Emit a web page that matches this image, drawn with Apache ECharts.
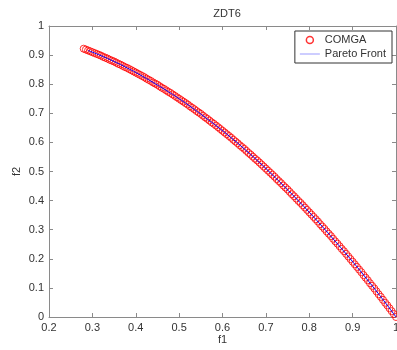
<!DOCTYPE html>
<html>
<head>
<meta charset="utf-8">
<script src="https://cdn.jsdelivr.net/npm/echarts@6/dist/echarts.min.js"></script>
<style>
  html, body { margin: 0; padding: 0; background: #fff; }
  #main { width: 397px; height: 350px; }
</style>
</head>
<body>
<div id="main"></div>
<script>
// COMGA 解 (f1, f2)
var comgaF1 = [0.280, 0.285, 0.290, 0.295, 0.300, 0.305, 0.310, 0.315, 0.320, 0.325,
    0.330, 0.335, 0.340, 0.345, 0.350, 0.355, 0.360, 0.365, 0.370, 0.375,
    0.380, 0.385, 0.390, 0.395, 0.400, 0.405, 0.410, 0.415, 0.420, 0.425,
    0.430, 0.435, 0.440, 0.445, 0.450, 0.455, 0.460, 0.465, 0.470, 0.475,
    0.480, 0.485, 0.490, 0.495, 0.500, 0.505, 0.510, 0.515, 0.520, 0.525,
    0.530, 0.535, 0.540, 0.545, 0.550, 0.555, 0.560, 0.565, 0.570, 0.575,
    0.580, 0.585, 0.590, 0.595, 0.600, 0.605, 0.610, 0.615, 0.620, 0.625,
    0.630, 0.635, 0.640, 0.645, 0.650, 0.655, 0.660, 0.665, 0.670, 0.675,
    0.680, 0.685, 0.690, 0.695, 0.700, 0.705, 0.710, 0.715, 0.720, 0.725,
    0.730, 0.735, 0.740, 0.745, 0.750, 0.755, 0.760, 0.765, 0.770, 0.775,
    0.780, 0.785, 0.790, 0.795, 0.800, 0.805, 0.810, 0.815, 0.820, 0.825,
    0.830, 0.835, 0.840, 0.845, 0.850, 0.855, 0.860, 0.865, 0.870, 0.875,
    0.880, 0.885, 0.890, 0.895, 0.900, 0.905, 0.910, 0.915, 0.920, 0.925,
    0.930, 0.935, 0.940, 0.945, 0.950, 0.955, 0.960, 0.965, 0.970, 0.975,
    0.980, 0.985, 0.990, 0.995, 1.000];
var comgaF2 = [0.922, 0.919, 0.916, 0.913, 0.910, 0.907, 0.904, 0.901, 0.898, 0.894,
    0.891, 0.888, 0.884, 0.881, 0.878, 0.874, 0.870, 0.867, 0.863, 0.859,
    0.856, 0.852, 0.848, 0.844, 0.840, 0.836, 0.832, 0.828, 0.824, 0.819,
    0.815, 0.811, 0.806, 0.802, 0.798, 0.793, 0.788, 0.784, 0.779, 0.774,
    0.770, 0.765, 0.760, 0.755, 0.750, 0.745, 0.740, 0.735, 0.730, 0.724,
    0.719, 0.714, 0.708, 0.703, 0.698, 0.692, 0.686, 0.681, 0.675, 0.669,
    0.664, 0.658, 0.652, 0.646, 0.640, 0.634, 0.628, 0.622, 0.616, 0.609,
    0.603, 0.597, 0.590, 0.584, 0.578, 0.571, 0.564, 0.558, 0.551, 0.544,
    0.538, 0.531, 0.524, 0.517, 0.510, 0.503, 0.496, 0.489, 0.482, 0.474,
    0.467, 0.460, 0.452, 0.445, 0.438, 0.430, 0.422, 0.415, 0.407, 0.399,
    0.392, 0.384, 0.376, 0.368, 0.360, 0.352, 0.344, 0.336, 0.328, 0.319,
    0.311, 0.303, 0.294, 0.286, 0.278, 0.269, 0.260, 0.252, 0.243, 0.234,
    0.226, 0.217, 0.208, 0.199, 0.190, 0.181, 0.172, 0.163, 0.154, 0.144,
    0.135, 0.126, 0.116, 0.107, 0.098, 0.088, 0.078, 0.069, 0.059, 0.049,
    0.040, 0.030, 0.020, 0.010, 0.000];

// Pareto Front 曲线
var frontF1 = [0.29, 0.32, 0.35, 0.38, 0.41, 0.44, 0.47, 0.50, 0.53, 0.56,
    0.59, 0.62, 0.65, 0.68, 0.71, 0.74, 0.77, 0.80, 0.83, 0.86,
    0.89, 0.92, 0.95, 0.98, 1.00];
var frontF2 = [0.916, 0.898, 0.878, 0.856, 0.832, 0.806, 0.779, 0.750, 0.719, 0.686,
    0.652, 0.616, 0.578, 0.538, 0.496, 0.452, 0.407, 0.360, 0.311, 0.260,
    0.208, 0.154, 0.098, 0.040, 0.000];

var xTicks = { min: 0.2, max: 1, interval: 0.1 };
var yTicks = { min: 0, max: 1, interval: 0.1 };

function zip(a, b) {
    var out = [];
    for (var i = 0; i < a.length; i++) out.push([a[i], b[i]]);
    return out;
}

var axisColor = '#8a8a8a';
var textColor = '#333';
var fontFamily = 'Liberation Sans, Arial, sans-serif';

function makeAxis(ticks, pos, showLabel, name, nameGap) {
    return {
        type: 'value',
        position: pos,
        min: ticks.min,
        max: ticks.max,
        interval: ticks.interval,
        name: name || '',
        nameLocation: 'middle',
        nameGap: nameGap || 0,
        nameMoveOverlap: false,
        nameTextStyle: { color: textColor, fontSize: 11, fontFamily: fontFamily },
        axisLine: { show: true, onZero: false, lineStyle: { color: axisColor, width: 1 } },
        axisTick: { show: true, inside: true, length: 4, lineStyle: { color: axisColor } },
        axisLabel: { show: showLabel, color: textColor, fontSize: 11, fontFamily: fontFamily, margin: 5 },
        splitLine: { show: false }
    };
}

var myChart = echarts.init(document.getElementById('main'));

var option = {
    backgroundColor: '#fff',
    animation: false,
    title: {
        text: 'ZDT6',
        left: 222,
        textAlign: 'center',
        top: 3,
        textStyle: { color: textColor, fontSize: 11, fontWeight: 'normal', fontFamily: fontFamily }
    },
    legend: {
        orient: 'vertical',
        right: 5,
        top: 31,
        padding: [3, 6, 3, 5],
        itemGap: 2,
        itemWidth: 20,
        itemHeight: 7,
        borderColor: '#333',
        borderWidth: 1,
        backgroundColor: '#fff',
        textStyle: { color: textColor, fontSize: 11, lineHeight: 12, fontFamily: fontFamily },
        data: [
            { name: 'COMGA', icon: 'circle', itemStyle: { color: 'transparent', borderColor: '#ff0000', borderWidth: 1.5 } },
            { name: 'Pareto Front', icon: 'path://M0,0L20,0L20,1L0,1Z', itemStyle: { color: '#9a9aff', borderWidth: 0 } }
        ]
    },
    grid: { left: 49, right: 1, top: 26, bottom: 33, outerBoundsMode: 'none' },
    xAxis: [
        makeAxis(xTicks, 'bottom', true, 'f1', 17),
        makeAxis(xTicks, 'top', false)
    ],
    yAxis: [
        makeAxis(yTicks, 'left', true, 'f2', 27),
        makeAxis(yTicks, 'right', false)
    ],
    series: [
        {
            name: 'COMGA',
            type: 'scatter',
            symbol: 'circle',
            symbolSize: 7,
            itemStyle: { color: 'transparent', borderColor: '#ff0000', borderWidth: 1 },
            data: zip(comgaF1, comgaF2)
        },
        {
            name: 'Pareto Front',
            type: 'line',
            symbol: 'none',
            smooth: true,
            lineStyle: { color: '#0000ff', width: 1 },
            itemStyle: { color: '#0000ff' },
            data: zip(frontF1, frontF2)
        }
    ]
};

myChart.setOption(option);
</script>
</body>
</html>
